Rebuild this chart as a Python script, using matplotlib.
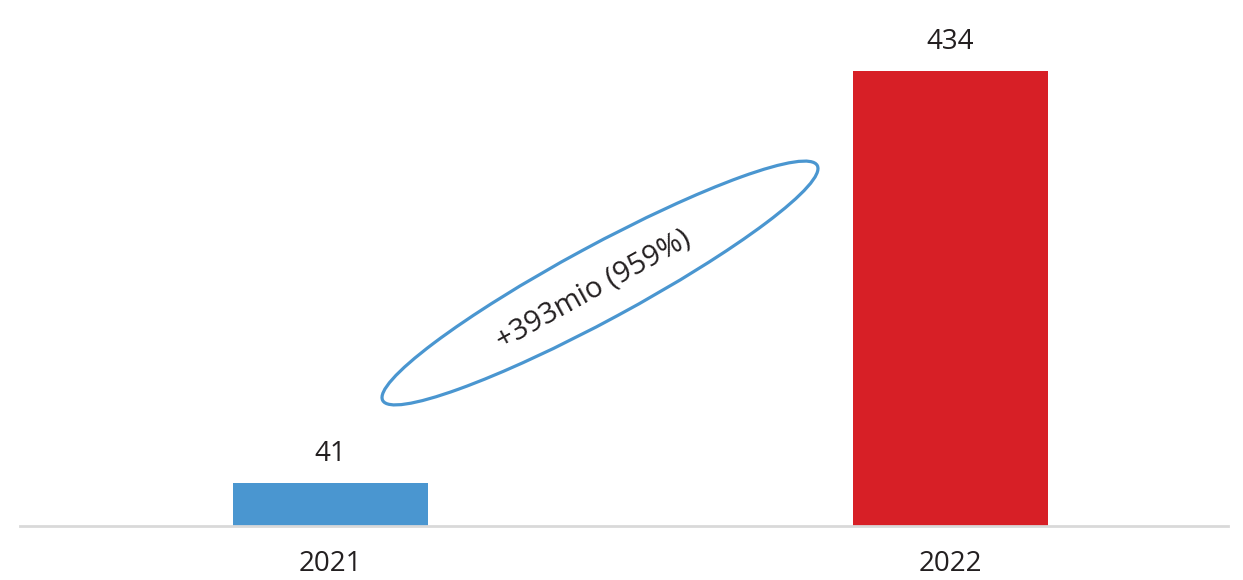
import matplotlib
matplotlib.use("Agg")
import matplotlib.pyplot as plt
from matplotlib.patches import Ellipse

# data
years = ["2021", "2022"]
values = [41, 434]
bar_colors = ["#4a96d0", "#d71f26"]
change_label = "+393mio (959%)"

text_color = "#231f20"
plt.rcParams["font.family"] = ["Open Sans", "DejaVu Sans"]

fig = plt.figure(figsize=(12.43, 5.80), dpi=100)
# axes spans from x=20px to 1228px, baseline at 526px from top
ax = fig.add_axes([20 / 1243, 54 / 580, 1208 / 1243, 526 / 580])

x = range(len(years))
bars = ax.bar(x, values, width=0.3145, color=bar_colors, zorder=2)

ax.set_xlim(-0.5008, 1.4476)
ax.set_ylim(0, 434 * 526 / 455)

for rect, v in zip(bars, values):
    ax.annotate(str(v), (rect.get_x() + rect.get_width() / 2, rect.get_height()),
                xytext=(0, 16), textcoords="offset points",
                ha="center", va="baseline", fontsize=20, color=text_color)

ax.set_xticks(list(x))
ax.set_xticklabels(years, fontsize=20, color=text_color)
ax.tick_params(axis="x", length=0, pad=17)
ax.set_yticks([])

for side in ["top", "right", "left"]:
    ax.spines[side].set_visible(False)
ax.spines["bottom"].set_color("#d9d9d9")
ax.spines["bottom"].set_linewidth(2)

# ellipse annotation for the change, drawn in inch space so it stays round
ell = Ellipse((6.00, 2.97), 4.94, 0.74, angle=28.4, fill=False,
              edgecolor="#4a96d0", linewidth=2.3, transform=fig.dpi_scale_trans)
fig.add_artist(ell)
fig.text(5.93 / 12.43, 2.90 / 5.80, change_label, rotation=29, ha="center", va="center",
         rotation_mode="anchor", fontsize=21, color=text_color)

fig.savefig("out.png", dpi=100, facecolor="white")
